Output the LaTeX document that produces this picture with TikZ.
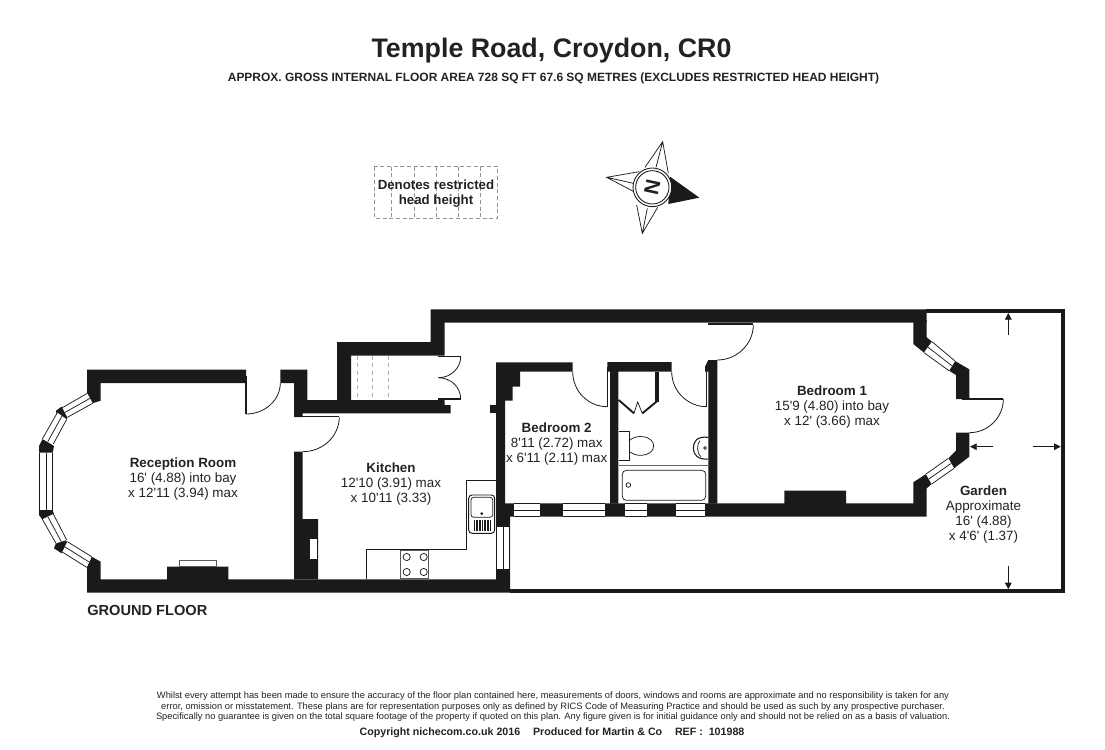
\documentclass[tikz,border=0pt]{standalone}
\usepackage{fontspec}
\setmainfont{Liberation Sans}[Ligatures=TeXOff]
\usetikzlibrary{calc,arrows.meta}
\definecolor{wallc}{HTML}{1A1A1A}
\definecolor{textc}{HTML}{222222}
\newcommand{\bwin}[4]{\fill[white] (#1)--(#2)--(#4)--(#3)--cycle;
  \draw[winline] (#1)--(#2) (#3)--(#4) ($(#1)!.5!(#3)$)--($(#2)!.5!(#4)$);}
\tikzset{
  wall/.style={fill=wallc,draw=none},
  winline/.style={draw=wallc,line width=0.55pt},
  thinline/.style={draw=wallc,line width=0.55pt},
  doorarc/.style={draw=wallc,line width=0.6pt},
  leaf/.style={draw=wallc,line width=1pt},
  steps/.style={draw=gray!60,line width=0.6pt,dash pattern=on 3pt off 2.5pt},
  hatch/.style={draw=gray!85,line width=0.5pt,dash pattern=on 3pt off 2pt},
  dimarrow/.style={draw=wallc,line width=0.55pt,-{Triangle[length=5pt,width=5pt]}},
  room/.style={inner sep=0pt,align=center,text=textc,font=\fontsize{10.05pt}{11.25pt}\selectfont},
  plain/.style={inner sep=0pt,align=center,text=textc},
}
\begin{document}
\begin{tikzpicture}[x=0.75pt,y=-0.75pt]
\useasboundingbox (0,0) rectangle (1105,749);
% walls
\fill[wall] (87,369.5)--(246,369.5)--(246,383)--(100.7,383)--(100.7,400.7)--(90,404)--(87,393.3)--cycle;
\fill[wall] (280.3,369.5)--(307.3,369.5)--(307.3,400)--(444.7,400)--(444.7,405)--(450.7,405)--(450.7,413.3)--(302.7,413.3)--(302.7,417)--(294,417)--(294,383)--(280.3,383)--cycle;
\fill[wall] (337,400)--(337,342)--(430.7,342)--(430.7,309.3)--(926.7,309.3)--(926.7,322.7)--(444.7,322.7)--(444.7,355.7)--(351,355.7)--(351,400)--cycle;
\fill[wall] (294,451.7)--(302.7,451.7)--(302.7,519)--(318,519)--(318,579.3)--(294,579.3)--cycle;
\fill[wall] (87,566.7)--(91.7,556.7)--(100.7,561.7)--(100.7,579.3)--(167,579.3)--(167,566.7)--(228.3,566.7)--(228.3,579.3)--(496,579.3)--(496,362.3)--(572.7,362.3)--(572.7,371.7)--(520,371.7)--(520,386.7)--(512.7,386.7)--(512.7,400.7)--(505,400.7)--(505,503.3)--(784.3,503.3)--(784.3,490.7)--(846,490.7)--(846,503.3)--(913.3,503.3)--(913.3,482.3)--(926,474)--(931.7,484)--(926.7,488.3)--(926.7,516.7)--(510,516.7)--(510,592.7)--(87,592.7)--cycle;
\fill[wall] (490,405) rectangle (496,413.3);
\fill[wall] (607.3,362)--(671.7,362)--(671.7,371.7)--(618.3,371.7)--(618.3,503.5)--(610,503.5)--(610,371.7)--(607.3,371.7)--cycle;
\fill[wall] (705,371.7)--(705,366.7)--(708.3,360)--(717.3,360)--(717.3,503.5)--(708.3,503.5)--(708.3,371.7)--cycle;
% cupboard
\fill[wall] (655,371.7) rectangle (659,401.7);
\begin{scope}[shift={(490,310)},scale=1/3]
  \draw[draw=wallc,line width=1.4pt] (386,270)--(432,310) (457,310)--(503,272);
  \draw[thinline] (432,310)--(443,276)--(457,310);
  \draw[thinline] (387,365)--(417,365)--(417,450)--(387,450);
  \draw[thinline] (417,392) .. controls (428,382) and (445,378) .. (458,380) .. controls (480,382) and (491,395) .. (491,408) .. controls (491,424) and (475,435) .. (455,436) .. controls (440,437) and (428,432) .. (417,424);
  \draw[draw=gray!80!black,line width=0.6pt] (387,467)--(655,467);
  \draw[thinline,rounded corners=3pt] (397,481) rectangle (647,571);
  \draw[thinline] (415,525) circle[radius=7];
  \draw[draw=wallc,line width=0.8pt] (655,382) .. controls (620,378) and (610,395) .. (610,415) .. controls (610,435) and (625,450) .. (655,447);
  \draw[thinline] (630,392) .. controls (620,400) and (620,430) .. (632,440);
  \draw[thinline] (645,414) circle[radius=4];
  \draw[draw=gray!80!black,line width=0.5pt] (655,185)--(655,467);
\end{scope}
% right bay
\begin{scope}[shift={(770,300)},scale=1/3]
  \fill[wall] (430,60)--(470,60)--(470,112)--(486,125)--(462,158)--(430,132)--cycle;
  \fill[wall] (555,183)--(598,208)--(598,297)--(558,297)--(558,225)--(537,212)--cycle;
  \fill[wall] (558,398)--(598,398)--(598,470)--(552,505)--(535,475)--(558,452)--cycle;
  \bwin{486,125}{555,183}{462,158}{537,212}
  \bwin{535,475}{468,522}{552,505}{485,552}
\end{scope}
% left bay
\begin{scope}[shift={(30,340)},scale=1/3]
  \fill[wall] (95,200)--(78,212)--(80,225)--(110,238)--(115,222)--cycle;
  \fill[wall] (38,297)--(27,318)--(27,338)--(68,338)--(72,318)--cycle;
  \fill[wall] (27,510)--(68,510)--(72,522)--(38,540)--(27,525)--cycle;
  \fill[wall] (80,605)--(72,625)--(95,640)--(115,612)--(107,600)--cycle;
  \bwin{172,160}{97,203}{188,190}{112,232}
  \bwin{82,218}{37,297}{110,238}{70,312}
  \bwin{28,338}{28,510}{68,338}{68,510}
  \bwin{37,538}{78,610}{70,522}{110,600}
  \bwin{97,636}{170,682}{112,605}{185,650}
  % chimney hearth
  \draw[draw=gray!70!black,line width=0.55pt,fill=white] (448,680) rectangle (560,661);
\end{scope}
% bottom windows
\bwin{514,503.3}{540,503.3}{514,516.7}{540,516.7}
\bwin{562.7,503.3}{605,503.3}{562.7,516.7}{605,516.7}
\bwin{625,503.3}{646.7,503.3}{625,516.7}{646.7,516.7}
\bwin{675.7,503.3}{705,503.3}{675.7,516.7}{705,516.7}
\bwin{496.7,527.3}{496.7,569.3}{509.3,527.3}{509.3,569.3}
\fill[white] (310,539) rectangle (317.3,559);
% stairs
\draw[steps] (357.7,356)--(357.7,400) (372.7,356)--(372.7,400) (388,356)--(388,400);
% garden outline
\draw[draw=wallc,line width=2.7pt,line join=miter] (926,311)--(1062.7,311)--(1062.7,591)--(510,591);
% doors
\draw[leaf] (246,376)--(246,414);
\draw[doorarc] (246,414) .. controls (265,414) and (280.3,400) .. (280.3,383);
\draw[leaf] (298,416.6)--(339.3,416.6);
\draw[doorarc] (339.3,417) .. controls (339.3,436) and (323,451.7) .. (302.7,451.7);
\draw[thinline] (607.3,367)--(607.3,406.7);
\draw[doorarc] (572.7,371.7) .. controls (572.7,391) and (588,406.7) .. (607.3,406.7);
\draw[thinline] (706.7,371)--(706.7,406.7);
\draw[doorarc] (671.7,371.7) .. controls (671.7,391) and (687.5,406.7) .. (706.7,406.7);
\draw[leaf] (708,324)--(753.3,324);
\draw[doorarc] (753.3,325) .. controls (753.3,344) and (737,360) .. (717.3,360);
\draw[leaf] (961.7,399)--(1003.3,399);
\draw[doorarc] (1003.3,399) .. controls (1003.3,417.5) and (988,432.7) .. (969.3,432.7);
\draw[leaf] (438.3,356.7)--(460.7,356.7) (438.3,399)--(460.7,399);
\draw[doorarc] (460.7,356.7) .. controls (460.7,368) and (451,377.7) .. (438.3,377.7);
\draw[doorarc] (460.7,399) .. controls (460.7,387.3) and (451,377.7) .. (438.3,377.7);
% kitchen units
\draw[thinline] (496,480)--(466.7,480)--(466.7,549)--(366.7,549)--(366.7,579.3);
\draw[thinline,fill=white,draw=gray!70!black] (400.7,550) rectangle (428.3,578.3);
\foreach \cx/\cy in {406.7/557,423.7/557,406.7/572,423.7/572}
  \draw[thinline] (\cx,\cy) circle[radius=3.6];
\draw[draw=wallc,line width=0.7pt,rounded corners=2.5pt] (468.7,495) rectangle (494.7,533.3);
\draw[thinline,rounded corners=2pt] (471,497.3) rectangle (492.7,517.3);
\fill[wallc] (481.7,513.7) circle[radius=1.5];
\foreach \bx in {473.5,476.2,478.9,481.6,484.3,487,489.7}
  \fill[wallc] (\bx,520) rectangle ++(1.6,10.7);
% restricted head height key
\draw[hatch] (374.3,166.7) rectangle (497.7,218.3);
\draw[hatch] (391.7,166.7)--(391.7,218.3) (414,166.7)--(414,218.3) (436.3,166.7)--(436.3,218.3) (458.7,166.7)--(458.7,218.3) (480.7,166.7)--(480.7,218.3);
% compass
\begin{scope}[shift={(360,130)},scale=1/3]
  \fill[wallc] (1018,203)--(930,140)--(925,222)--cycle;
  \draw[thinline] (855,112)--(908,35)--(925,130) (908,35)--(888,112);
  \draw[thinline] (838,125)--(740,142)--(822,185) (740,142)--(820,160);
  \draw[thinline] (830,225)--(847,310)--(893,232) (847,310)--(862,235);
  \draw[draw=wallc,fill=white,line width=0.65pt] (877,172) circle[radius=58];
  \draw[draw=wallc,line width=0.65pt] (877,172) circle[radius=50];
\end{scope}
\node[plain,rotate=-102,font=\fontsize{15.5pt}{15.5pt}\bfseries\selectfont] (north) at (652.3,187.3) {N};
% labels
\node[plain,font=\fontsize{20.1pt}{24pt}\bfseries\selectfont] (title) at (551.5,50.5) {Temple Road, Croydon, CR0};
\node[plain,font=\fontsize{8.98pt}{10pt}\bfseries\selectfont] (subtitle) at (553.5,78) {APPROX. GROSS INTERNAL FLOOR AREA 728 SQ FT 67.6 SQ METRES (EXCLUDES RESTRICTED HEAD HEIGHT)};
\node[plain,font=\fontsize{9.95pt}{11.2pt}\bfseries\selectfont] (key) at (436,193.5) {Denotes restricted\\head height};
\node[room] (reception) at (183,479) {\textbf{Reception Room}\\16' (4.88) into bay\\x 12'11 (3.94) max};
\node[room] (kitchen) at (391,484) {\textbf{Kitchen}\\12'10 (3.91) max\\x 10'11 (3.33)};
\node[room] (bed2) at (556.7,444) {\textbf{Bedroom 2}\\8'11 (2.72) max\\x 6'11 (2.11) max};
\node[room] (bed1) at (832,407) {\textbf{Bedroom 1}\\15'9 (4.80) into bay\\x 12' (3.66) max};
\node[room] (garden) at (983.5,515) {\textbf{Garden}\\Approximate\\16' (4.88)\\x 4'6' (1.37)};
\node[plain,anchor=west,font=\fontsize{10.95pt}{12pt}\bfseries\selectfont] (floor) at (87,610.5) {GROUND FLOOR};
\node[plain,font=\fontsize{6.98pt}{7.9pt}\selectfont] (disclaimer) at (553,707) {Whilst every attempt has been made to ensure the accuracy of the floor plan contained here, measurements of doors, windows and rooms are approximate and no responsibility is taken for any\\error, omission or misstatement. These plans are for representation purposes only as defined by RICS Code of Measuring Practice and should be used as such by any prospective purchaser.\\Specifically no guarantee is given on the total square footage of the property if quoted on this plan. Any figure given is for initial guidance only and should not be relied on as a basis of valuation.};
\node[plain,font=\fontsize{8pt}{9pt}\bfseries\selectfont] (copyright) at (552,732.5) {Copyright nichecom.co.uk 2016\hspace{1.2em}Produced for Martin \& Co\hspace{1.2em}REF :\ \ 101988};
% dimension arrows in the garden
\coordinate (a1s) at (1008.3,335); \coordinate (a1e) at (1008.3,313);
\coordinate (a2s) at (992.7,446.7); \coordinate (a2e) at (970,446.7);
\coordinate (a3s) at (1032.7,446.7); \coordinate (a3e) at (1060.7,446.7);
\coordinate (a4s) at (1008.3,566); \coordinate (a4e) at (1008.3,589.3);
\draw[dimarrow] (a1s)--(a1e);
\draw[dimarrow] (a2s)--(a2e);
\draw[dimarrow] (a3s)--(a3e);
\draw[dimarrow] (a4s)--(a4e);
\end{tikzpicture}
\end{document}
